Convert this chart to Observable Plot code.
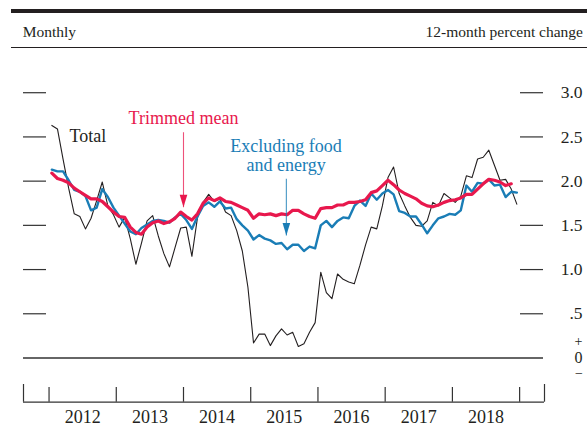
<!DOCTYPE html>
<html><head><meta charset="utf-8">
<script src="https://cdn.jsdelivr.net/npm/d3@7"></script>
<script src="https://cdn.jsdelivr.net/npm/@observablehq/plot@0.6"></script>
<style>
html,body{margin:0;padding:0;background:#fff;}
#wrap{position:relative;width:587px;height:426px;font-family:"Liberation Serif","Times New Roman",serif;color:#231f20;overflow:hidden;}
.rule{position:absolute;left:11px;right:0;background:#231f20;}
.hdr{position:absolute;font-size:15.5px;line-height:1;white-space:nowrap;}
#chart{position:absolute;left:0;top:48px;}
</style></head><body>
<div id="wrap">
  <div class="rule" style="top:9.3px;height:3.4px"></div>
  <div class="hdr" style="left:22.7px;top:23.7px">Monthly</div>
  <div class="hdr" style="right:4px;top:23.7px">12-month percent change</div>
  <div class="rule" style="top:46.6px;height:1.4px"></div>
  <div id="chart"></div>
</div>
<script>
// ---- Data (12-month percent change, monthly, Jan 2012 onward) ----
const startYear = 2012;
const total = [
  2.63, 2.59, 2.25, 1.92, 1.63, 1.60, 1.46, 1.58, 1.78, 1.99, 1.72, 1.62,
  1.48, 1.59, 1.35, 1.06, 1.30, 1.55, 1.61, 1.38, 1.18, 1.03, 1.25, 1.47,
  1.48, 1.15, 1.59, 1.76, 1.85, 1.77, 1.80, 1.65, 1.61, 1.44, 1.21, 0.80,
  0.17, 0.27, 0.27, 0.14, 0.25, 0.33, 0.26, 0.29, 0.13, 0.16, 0.29, 0.40,
  0.97, 0.74, 0.67, 0.95, 0.89, 0.86, 0.84, 1.05, 1.28, 1.48, 1.46, 1.72,
  2.04, 2.16, 1.86, 1.72, 1.59, 1.50, 1.49, 1.55, 1.76, 1.72, 1.86, 1.81,
  1.76, 1.83, 2.06, 2.04, 2.25, 2.27, 2.35, 2.18, 2.01, 2.02, 1.91, 1.74
];
const exFoodEnergy = [
  2.13, 2.11, 2.11, 2.01, 1.90, 1.88, 1.83, 1.67, 1.70, 1.91, 1.82, 1.70,
  1.61, 1.52, 1.43, 1.40, 1.47, 1.51, 1.55, 1.56, 1.55, 1.53, 1.59, 1.63,
  1.56, 1.46, 1.60, 1.72, 1.76, 1.71, 1.77, 1.69, 1.70, 1.57, 1.50, 1.44,
  1.34, 1.39, 1.35, 1.33, 1.29, 1.30, 1.23, 1.28, 1.28, 1.21, 1.26, 1.24,
  1.50, 1.55, 1.48, 1.55, 1.59, 1.58, 1.72, 1.78, 1.72, 1.86, 1.79, 1.86,
  1.90, 1.85, 1.66, 1.64, 1.60, 1.60, 1.51, 1.41, 1.50, 1.58, 1.60, 1.63,
  1.62, 1.67, 1.95, 1.88, 1.98, 1.97, 2.02, 1.95, 1.96, 1.82, 1.88, 1.87
];
const trimmedMean = [
  2.09, 2.03, 2.01, 1.98, 1.92, 1.88, 1.84, 1.80, 1.80, 1.77, 1.71, 1.65,
  1.60, 1.59, 1.48, 1.42, 1.40, 1.48, 1.53, 1.55, 1.52, 1.54, 1.58, 1.65,
  1.60, 1.56, 1.63, 1.75, 1.81, 1.78, 1.81, 1.77, 1.76, 1.73, 1.70, 1.67,
  1.58, 1.63, 1.62, 1.63, 1.61, 1.63, 1.62, 1.67, 1.67, 1.63, 1.60, 1.58,
  1.69, 1.70, 1.70, 1.73, 1.73, 1.76, 1.76, 1.77, 1.79, 1.87, 1.89, 1.95,
  2.01, 1.96, 1.90, 1.86, 1.83, 1.80, 1.75, 1.72, 1.71, 1.73, 1.76, 1.78,
  1.79, 1.81, 1.85, 1.85, 1.91, 1.97, 2.02, 2.01, 1.99, 1.95, 1.97
];
const yearLabels = [2012, 2013, 2014, 2015, 2016, 2017, 2018];
const yearBoundaries = [2012, 2013, 2014, 2015, 2016, 2017, 2018, 2019];
const yTickValues = [0.5, 1.0, 1.5, 2.0, 2.5, 3.0];
const yTickLabels = [".5", "1.0", "1.5", "2.0", "2.5", "3.0"];
const xDomain = [2011.62, 2019.37];
const yDomain = [-0.5, 3.5];

// annotations (data coordinates)
const labelTotal = [{x: 2012.305, y: 2.44, text: "Total"}];
const labelTrim = [{x: 2014.0, y: 2.648, text: "Trimmed mean"}];
const labelCore = [{x: 2015.526, y: 2.12, text: "Excluding food\nand energy"}];
const arrowTrim = [{x: 2014.0, y1: 2.553, y2: 1.705}];
const arrowCore = [{x: 2015.53, y1: 2.026, y2: 1.385}];

const C = {total: "#231f20", core: "#1a7db6", trim: "#e8184d", axis: "#333"};
const FONT = "Liberation Serif, Times New Roman, serif";

const monthX = i => startYear + (i + 0.5) / 12;
const toRows = vals => vals.map((v, i) => ({x: monthX(i), v}));

const head = {
  draw(context) {
    context.moveTo(-3.8, -12.5);
    context.lineTo(3.8, -12.5);
    context.lineTo(0, 0);
    context.closePath();
  }
};

const W = 587, H = 378;
const frameW = W - 23 - 43;

const plot = Plot.plot({
  width: W, height: H,
  marginTop: 0, marginBottom: 24.3, marginLeft: 23, marginRight: 43,
  x: {type: "linear", domain: xDomain, axis: null},
  y: {domain: yDomain, axis: null},
  style: {fontFamily: FONT, background: "transparent", overflow: "visible", color: "#231f20"},
  marks: [
    // y ticks left & right
    Plot.tickY(yTickValues, {y: d => d, stroke: C.axis, strokeWidth: 1.2, insetRight: frameW - 23}),
    Plot.tickY(yTickValues, {y: d => d, stroke: C.axis, strokeWidth: 1.2, insetLeft: frameW - 24, insetRight: 1}),
    // zero line
    Plot.ruleY([0], {stroke: C.axis, strokeWidth: 1.3, insetRight: 1}),
    // bottom axis
    Plot.ruleY([yDomain[0]], {stroke: C.axis, strokeWidth: 1.3}),
    Plot.tickX(yearBoundaries, {x: d => d, stroke: C.axis, strokeWidth: 1.2, insetTop: 339}),
    Plot.tickX(xDomain, {x: d => d, stroke: C.axis, strokeWidth: 1.2, insetTop: 336}),
    Plot.text(yearLabels, {x: d => d + 0.5, text: d => String(d), frameAnchor: "bottom", dy: 15.5,
      lineAnchor: "middle", fontSize: 18, fill: "#231f20"}),
    // y labels right
    Plot.text(yTickValues, {y: d => d, text: (d, i) => yTickLabels[i], frameAnchor: "right", dx: 38,
      textAnchor: "end", lineAnchor: "middle", fontSize: 17.5, fill: "#231f20"}),
    Plot.text(["0"], {y: 0, text: d => d, frameAnchor: "right", dx: 38, textAnchor: "end", lineAnchor: "middle", fontSize: 16, fill: "#231f20"}),
    Plot.text(["+"], {y: 0, text: d => d, frameAnchor: "right", dx: 38, dy: -16, textAnchor: "end", lineAnchor: "middle", fontSize: 14, fill: "#231f20"}),
    Plot.text(["\u2212"], {y: 0, text: d => d, frameAnchor: "right", dx: 38.5, dy: 16, textAnchor: "end", lineAnchor: "middle", fontSize: 14, fill: "#231f20"}),
    // series
    Plot.line(toRows(total), {x: "x", y: "v", stroke: C.total, strokeWidth: 1.1, strokeLinejoin: "round"}),
    Plot.line(toRows(exFoodEnergy), {x: "x", y: "v", stroke: C.core, strokeWidth: 2.4, strokeLinejoin: "round"}),
    Plot.line(toRows(trimmedMean), {x: "x", y: "v", stroke: C.trim, strokeWidth: 3.2, strokeLinejoin: "round"}),
    // annotations
    Plot.text(labelTotal, {x: "x", y: "y", text: "text", textAnchor: "start", lineAnchor: "bottom", fontSize: 18, fill: C.total}),
    Plot.text(labelTrim, {x: "x", y: "y", text: "text", textAnchor: "middle", lineAnchor: "bottom", fontSize: 18, fill: C.trim}),
    Plot.text(labelCore, {x: "x", y: "y", text: "text", textAnchor: "middle", lineAnchor: "bottom", lineHeight: 1.02, fontSize: 18, fill: C.core}),
    Plot.link(arrowTrim, {x1: "x", x2: "x", y1: "y1", y2: "y2", stroke: C.trim, strokeWidth: 1.1, strokeOpacity: 0.75}),
    Plot.dot(arrowTrim, {x: "x", y: "y2", symbol: head, r: 1, fill: C.trim, stroke: "none"}),
    Plot.link(arrowCore, {x1: "x", x2: "x", y1: "y1", y2: "y2", stroke: C.core, strokeWidth: 1.1, strokeOpacity: 0.8}),
    Plot.dot(arrowCore, {x: "x", y: "y2", symbol: head, r: 1, fill: C.core, stroke: "none"})
  ]
});
document.getElementById("chart").appendChild(plot);
</script>
</body></html>
